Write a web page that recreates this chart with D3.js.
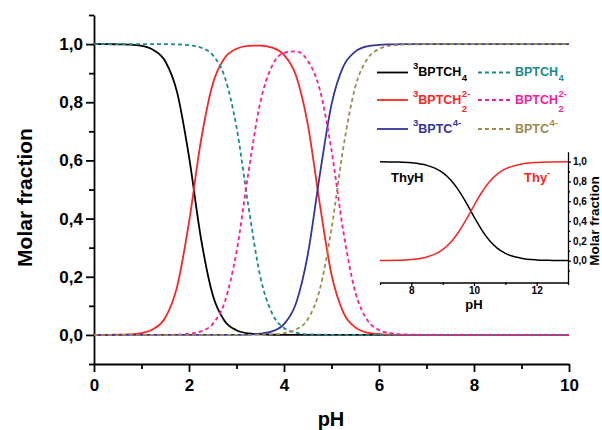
<!DOCTYPE html>
<html>
<head>
<meta charset="utf-8">
<script src="https://cdn.jsdelivr.net/npm/d3@7"></script>
<style>
  body { margin: 0; background: #fff; }
  svg { display: block; font-family: "Liberation Sans", Arial, sans-serif; }
  .axis path, .axis line { stroke: #000; stroke-width: 1.8; }
  .axis text { font-weight: bold; font-size: 17px; fill: #000; }
  .inset path, .inset line { stroke-width: 1.3; }
  .inset text { font-size: 10px; }
</style>
</head>
<body>
<div id="chart"></div>
<script>
// pH grid for the main chart
var pH = [0, 0.25, 0.5, 0.75, 1, 1.25, 1.5, 1.75, 2, 2.25, 2.5, 2.75, 3, 3.25, 3.5, 3.75,
  4, 4.25, 4.5, 4.75, 5, 5.25, 5.5, 5.75, 6, 6.25, 6.5, 6.75, 7, 8, 9, 10];

// triplet (excited) species, solid lines
var t3BPTCH4 = [1, 1, 0.999, 0.998, 0.994, 0.980, 0.941, 0.834, 0.613, 0.334, 0.137, 0.048, 0.016, 0.005, 0.002, 0.0005,
  0, 0, 0, 0, 0, 0, 0, 0, 0, 0, 0, 0, 0, 0, 0, 0];
var t3BPTCH2 = [0, 0, 0.001, 0.002, 0.006, 0.020, 0.059, 0.166, 0.387, 0.666, 0.863, 0.952, 0.984, 0.994, 0.995, 0.988,
  0.963, 0.893, 0.725, 0.454, 0.208, 0.077, 0.026, 0.008, 0.003, 0.001, 0, 0, 0, 0, 0, 0];
var t3BPTC = [0, 0, 0, 0, 0, 0, 0, 0, 0, 0, 0, 0, 0, 0.001, 0.004, 0.012,
  0.037, 0.107, 0.275, 0.546, 0.792, 0.923, 0.974, 0.992, 0.997, 0.999, 1, 1, 1, 1, 1, 1];

// ground state species, dashed lines
var gBPTCH4 = [1, 1, 1, 1, 1, 1, 1, 0.999, 0.996, 0.988, 0.962, 0.888, 0.715, 0.443, 0.201, 0.074,
  0.024, 0.008, 0.002, 0.001, 0, 0, 0, 0, 0, 0, 0, 0, 0, 0, 0, 0];
var gBPTCH2 = [0, 0, 0, 0, 0, 0, 0, 0.001, 0.004, 0.012, 0.038, 0.112, 0.285, 0.557, 0.799, 0.925,
  0.970, 0.975, 0.943, 0.846, 0.635, 0.355, 0.148, 0.052, 0.017, 0.006, 0.002, 0.001, 0, 0, 0, 0];
var gBPTC = [0, 0, 0, 0, 0, 0, 0, 0, 0, 0, 0, 0, 0, 0, 0.001, 0.002,
  0.006, 0.018, 0.054, 0.154, 0.365, 0.645, 0.852, 0.948, 0.983, 0.995, 0.998, 0.999, 1, 1, 1, 1];

// inset: thymine
var thyPH = [7, 7.5, 8, 8.5, 8.75, 9, 9.25, 9.5, 9.75, 10, 10.25, 10.5, 10.75, 11, 11.5, 12, 12.5, 13];
var thyH = [0.999, 0.996, 0.988, 0.962, 0.934, 0.888, 0.817, 0.715, 0.586, 0.443, 0.309, 0.201, 0.124, 0.074, 0.025, 0.008, 0.003, 0.001];
var thyAnion = [0.001, 0.004, 0.012, 0.038, 0.066, 0.112, 0.183, 0.285, 0.414, 0.557, 0.691, 0.799, 0.876, 0.926, 0.975, 0.992, 0.997, 0.999];

// ticks
var xTicks = [0, 2, 4, 6, 8, 10];
var xMinor = [1, 3, 5, 7, 9];
var yTicks = [0, 0.2, 0.4, 0.6, 0.8, 1.0];
var yMinor = [-0.1, 0.1, 0.3, 0.5, 0.7, 0.9, 1.1];
var insetXTicks = [8, 10, 12];
var insetXMinor = [7, 9, 11, 13];
var insetYMinor = [-0.1, 0.1, 0.3, 0.5, 0.7, 0.9];

// legend labels (pre-superscript, base, superscript, subscript)
var legendPre = ["3", "3", "3", "", "", ""];
var legendBase = ["BPTCH", "BPTCH", "BPTC", "BPTCH", "BPTCH", "BPTC"];
var legendSup = ["", "2-", "4-", "", "2-", "4-"];
var legendSub = ["4", "2", "", "4", "2", ""];

var colors = ["#000000", "#ff2222", "#33339c", "#1b8a8e", "#ff1a9c", "#9e8a4e"];
var seriesData = [t3BPTCH4, t3BPTCH2, t3BPTC, gBPTCH4, gBPTCH2, gBPTC];

var svg = d3.select("#chart")
  .append("svg")
  .attr("width", 602)
  .attr("height", 430);

var x = d3.scaleLinear().domain([0, 10]).range([94, 569]);
var y = d3.scaleLinear().domain([-0.1, 1.1]).range([364, 15]);

var comma = function(d) { return d3.format(".1f")(d).replace(".", ","); };

// minor ticks
svg.append("g")
  .attr("class", "axis")
  .attr("transform", "translate(0,364)")
  .call(d3.axisBottom(x).tickValues(xMinor).tickSize(5).tickFormat(""))
  .select(".domain").remove();
svg.append("g")
  .attr("class", "axis")
  .attr("transform", "translate(94,0)")
  .call(d3.axisLeft(y).tickValues(yMinor).tickSize(5).tickFormat(""))
  .select(".domain").remove();

// major axes
svg.append("g")
  .attr("class", "axis")
  .attr("transform", "translate(0,364)")
  .call(d3.axisBottom(x).tickValues(xTicks).tickSize(8).tickSizeOuter(0).tickPadding(7).tickFormat(d3.format("d")));
svg.append("g")
  .attr("class", "axis")
  .attr("transform", "translate(94,0)")
  .call(d3.axisLeft(y).tickValues(yTicks).tickSize(8).tickSizeOuter(0).tickPadding(3).tickFormat(comma));

// axis titles
svg.append("text")
  .attr("transform", "translate(31.5,197.5) rotate(-90)")
  .attr("text-anchor", "middle")
  .style("font-size", "21px")
  .style("font-weight", "bold")
  .text("Molar fraction");
svg.append("text")
  .attr("x", 331)
  .attr("y", 426)
  .attr("text-anchor", "middle")
  .style("font-size", "20px")
  .style("font-weight", "bold")
  .text("pH");

// curves: solids first, dashed on top
var line = d3.line()
  .x(function(d, i) { return x(pH[i]); })
  .y(function(d) { return y(d); })
  .curve(d3.curveMonotoneX);

seriesData.forEach(function(vals, i) {
  svg.append("path")
    .attr("d", line(vals))
    .attr("fill", "none")
    .attr("stroke", colors[i])
    .attr("stroke-width", 1.8)
    .attr("stroke-dasharray", i > 2 ? "4,3" : null);
});

// legend
var legendRows = [72.5, 100, 129];
seriesData.forEach(function(vals, i) {
  var row = legendRows[i % 3];
  var col = i < 3 ? 0 : 1;
  var x0 = col === 0 ? 377 : 478;
  var x1 = col === 0 ? 408 : 512;
  var tx = col === 0 ? 413 : 515;
  var base = row + 3.5;

  svg.append("line")
    .attr("x1", x0).attr("x2", x1)
    .attr("y1", row).attr("y2", row)
    .attr("stroke", colors[i])
    .attr("stroke-width", 1.8)
    .attr("stroke-dasharray", i > 2 ? "4,3" : null);

  var t = svg.append("text")
    .attr("x", tx)
    .attr("y", base)
    .attr("fill", colors[i])
    .style("font-weight", "bold")
    .style("font-size", "12.5px");
  if (legendPre[i]) {
    t.append("tspan").attr("dy", -7).style("font-size", "9.5px").text(legendPre[i]);
    t.append("tspan").attr("dy", 7).text(legendBase[i]);
  } else {
    t.text(legendBase[i]);
  }
  var w = t.node().getComputedTextLength();
  if (legendSup[i]) {
    svg.append("text")
      .attr("x", tx + w + 0.5).attr("y", base - 6.5)
      .attr("fill", colors[i])
      .style("font-weight", "bold").style("font-size", "9.5px")
      .text(legendSup[i]);
  }
  if (legendSub[i]) {
    svg.append("text")
      .attr("x", tx + w + 0.5).attr("y", base + (legendSup[i] ? 8 : 5))
      .attr("fill", colors[i])
      .style("font-weight", "bold").style("font-size", "9.5px")
      .text(legendSub[i]);
  }
});

// inset chart
var xi = d3.scaleLinear().domain([7, 13]).range([380, 568]);
var yi = d3.scaleLinear().domain([-0.22, 1.1]).range([282.5, 151.7]);

svg.append("g")
  .attr("class", "axis inset")
  .attr("transform", "translate(0,282.5)")
  .call(d3.axisBottom(xi).tickValues(insetXMinor).tickSize(2.5).tickFormat(""))
  .select(".domain").remove();
svg.append("g")
  .attr("class", "axis inset")
  .attr("transform", "translate(568,0)")
  .call(d3.axisRight(yi).tickValues(insetYMinor).tickSize(2).tickFormat(""))
  .select(".domain").remove();
svg.append("g")
  .attr("class", "axis inset")
  .attr("transform", "translate(0,282.5)")
  .call(d3.axisBottom(xi).tickValues(insetXTicks).tickSize(3.5).tickSizeOuter(0).tickPadding(1).tickFormat(d3.format("d")));
svg.append("g")
  .attr("class", "axis inset")
  .attr("transform", "translate(568,0)")
  .call(d3.axisRight(yi).tickValues(yTicks).tickSize(3).tickSizeOuter(0).tickPadding(2).tickFormat(comma));

svg.append("text")
  .attr("transform", "translate(598.5,221) rotate(-90)")
  .attr("text-anchor", "middle")
  .style("font-size", "13.5px")
  .style("font-weight", "bold")
  .text("Molar fraction");
svg.append("text")
  .attr("x", 474)
  .attr("y", 308.5)
  .attr("text-anchor", "middle")
  .style("font-size", "13px")
  .style("font-weight", "bold")
  .text("pH");

var lineInset = d3.line()
  .x(function(d, i) { return xi(thyPH[i]); })
  .y(function(d) { return yi(d); })
  .curve(d3.curveMonotoneX);

svg.append("path")
  .attr("d", lineInset(thyH))
  .attr("fill", "none")
  .attr("stroke", "#000")
  .attr("stroke-width", 1.5);
svg.append("path")
  .attr("d", lineInset(thyAnion))
  .attr("fill", "none")
  .attr("stroke", "#ff2222")
  .attr("stroke-width", 1.5);

svg.append("text")
  .attr("x", 391)
  .attr("y", 182)
  .style("font-size", "13px")
  .style("font-weight", "bold")
  .text("ThyH");
var thyText = svg.append("text")
  .attr("x", 524)
  .attr("y", 182)
  .attr("fill", "#ff2222")
  .style("font-size", "13px")
  .style("font-weight", "bold");
thyText.append("tspan").text("Thy");
thyText.append("tspan").attr("dy", -6).style("font-size", "9px").text("-");
</script>
</body>
</html>
